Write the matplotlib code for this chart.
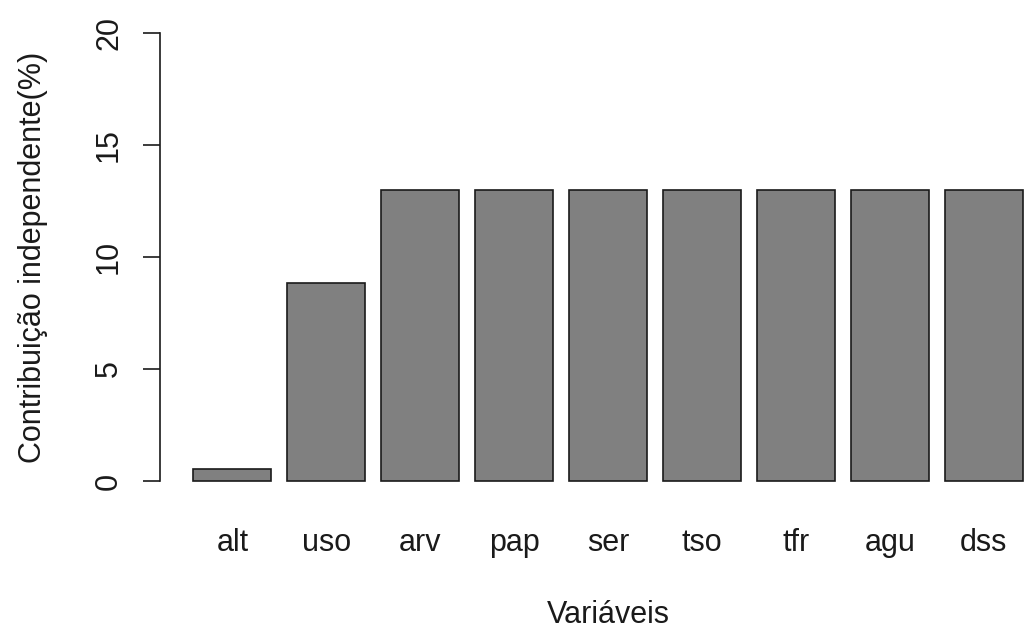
import numpy as np
import matplotlib
matplotlib.use("Agg")
import matplotlib.pyplot as plt

# dados
variaveis = ['alt', 'uso', 'arv', 'pap', 'ser', 'tso', 'tfr', 'agu', 'dss']
contribuicao = [0.55, 8.85, 12.99, 12.99, 12.99, 12.99, 12.99, 12.99, 12.99]
yticks = [0, 5, 10, 15, 20]

plt.rcParams['font.family'] = ['Liberation Sans', 'DejaVu Sans']
fs = 22

fig = plt.figure(figsize=(10.27, 6.32), dpi=100)
# area do grafico no estilo barplot do R (parte da direita fica fora da imagem)
ax = fig.add_axes([160/1027, (632-499)/632, 896/1027, 484/632])

# barplot: largura 1, espaco 0.2
x = 0.7 + 1.2*np.arange(len(variaveis))
ax.bar(x, contribuicao, width=1.0, color='#808080', edgecolor='#1a1a1a', linewidth=1.2)

ax.set_xlim(-0.224, 11.224)
ax.set_ylim(-0.8, 20.8)

for s in ['top', 'right', 'bottom']:
    ax.spines[s].set_visible(False)
ax.spines['left'].set_bounds(0, 20)
ax.spines['left'].set_linewidth(1.2)
ax.spines['left'].set_color('#1a1a1a')

ax.set_yticks(yticks)
ax.set_yticklabels([str(v) for v in yticks], rotation=90, va='center')
ax.tick_params(axis='y', length=12.2, width=1.2, color='#1a1a1a', pad=13.7, labelsize=fs, labelcolor='#1a1a1a')

ax.set_xticks(x)
ax.set_xticklabels(variaveis)
ax.tick_params(axis='x', length=0, pad=20.9, labelsize=fs, labelcolor='#1a1a1a')

ax.set_xlabel('Variáveis', fontsize=fs, labelpad=30, color='#1a1a1a')
ax.set_ylabel('Contribuição independente(%)', fontsize=fs, labelpad=33, color='#1a1a1a')

fig.savefig('out.png', dpi=100)
